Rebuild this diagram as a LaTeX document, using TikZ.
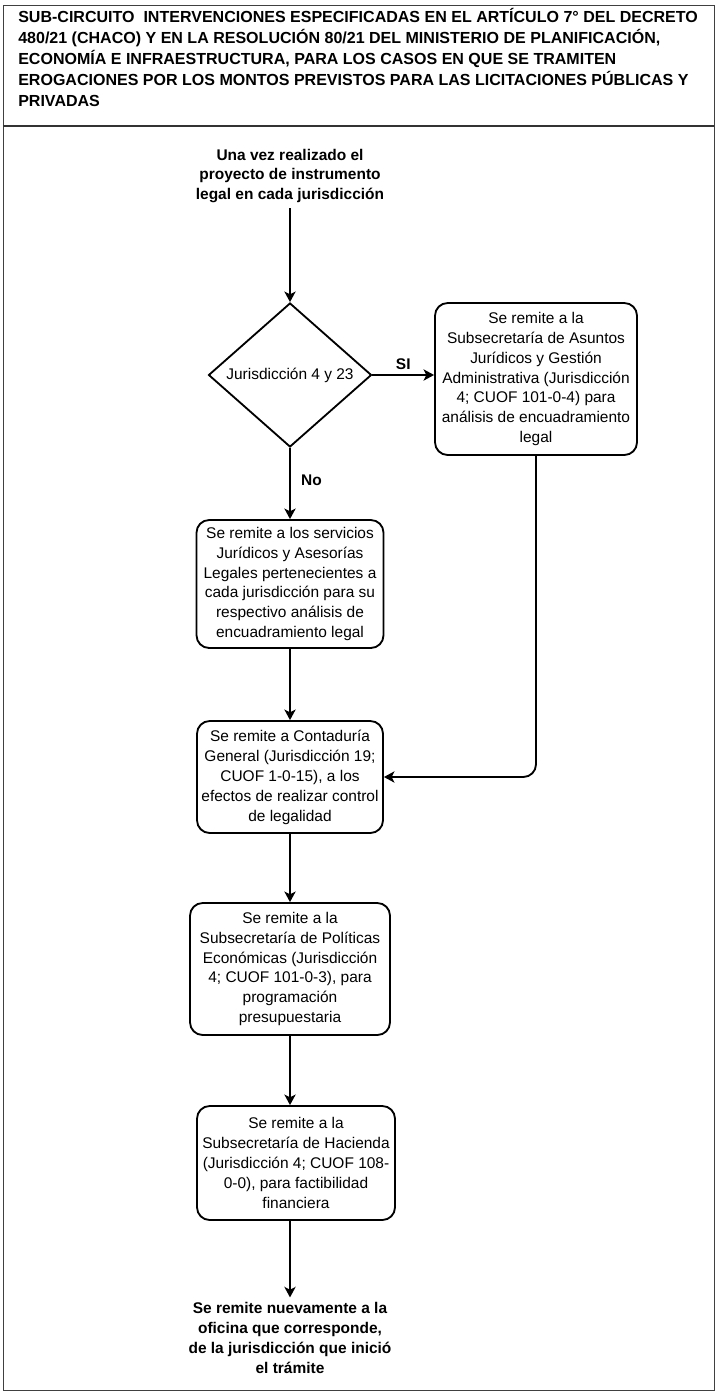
\documentclass[tikz,border=0pt]{standalone}
\usepackage{fontspec}
\setmainfont{Liberation Sans}
\usetikzlibrary{positioning, shapes, arrows.meta, calc}

\begin{document}
\begin{tikzpicture}[
    caja/.style={draw, line width=1.3pt, rounded corners=9pt, align=center, inner sep=1pt, font=\fontsize{11}{14.2}\selectfont},
    decision/.style={draw, line width=1.3pt, diamond, aspect=1.13, inner sep=0pt, minimum width=4.075cm, minimum height=3.6cm, font=\fontsize{11}{14.2}\selectfont},
    texto/.style={align=center, font=\bfseries\fontsize{11}{14.2}\selectfont},
    rotulo/.style={font=\bfseries\fontsize{11}{14}\selectfont},
    flecha/.style={-{Stealth[length=7.5pt,width=8pt,inset=2pt]}, line width=1.3pt}
]
\useasboundingbox (0,0) rectangle (17.9,-34.9);

% marco
\draw[line width=0.7pt, black!75] (0.075,-0.125) rectangle (17.85,-34.75);
\draw[line width=2pt, black!80] (0.075,-3.15) -- (17.85,-3.15);

% titulo
\node[anchor=north west, align=left, inner sep=0pt, font=\bfseries\fontsize{11.4}{14.9}\selectfont] (titulo) at (0.45,-0.2) {SUB-CIRCUITO\ \ INTERVENCIONES ESPECIFICADAS EN EL ARTÍCULO 7° DEL DECRETO\\480/21 (CHACO) Y EN LA RESOLUCIÓN 80/21 DEL MINISTERIO DE PLANIFICACIÓN,\\ECONOMÍA E INFRAESTRUCTURA, PARA LOS CASOS EN QUE SE TRAMITEN\\EROGACIONES POR LOS MONTOS PREVISTOS PARA LAS LICITACIONES PÚBLICAS Y\\PRIVADAS};

% nodos
\node[texto] (inicio) at (7.25,-4.4) {Una vez realizado el\\proyecto de instrumento\\legal en cada jurisdicción};
\node[decision] (jurisdiccion) at (7.25,-9.375) {Jurisdicción 4 y 23};
\node[caja, minimum width=5.05cm, minimum height=3.8cm] (asuntos) at (13.4,-9.475) {Se remite a la\\Subsecretaría de Asuntos\\Jurídicos y Gestión\\Administrativa (Jurisdicción\\4; CUOF 101-0-4) para\\análisis de encuadramiento\\legal};
\node[caja, minimum width=4.675cm, minimum height=3.2cm] (servicios) at (7.25,-14.6) {Se remite a los servicios\\Jurídicos y Asesorías\\Legales pertenecientes a\\cada jurisdicción para su\\respectivo análisis de\\encuadramiento legal};
\node[caja, minimum width=4.65cm, minimum height=2.8cm] (contaduria) at (7.25,-19.425) {Se remite a Contaduría\\General (Jurisdicción 19;\\CUOF 1-0-15), a los\\efectos de realizar control\\de legalidad};
\node[caja, minimum width=5cm, minimum height=3.3cm] (politicas) at (7.25,-24.225) {Se remite a la\\Subsecretaría de Políticas\\Económicas (Jurisdicción\\4; CUOF 101-0-3), para\\programación\\presupuestaria};
\node[caja, minimum width=4.95cm, minimum height=2.85cm] (hacienda) at (7.4,-29.075) {Se remite a la\\Subsecretaría de Hacienda\\(Jurisdicción 4; CUOF 108-\\0-0), para factibilidad\\financiera};
\node[texto] (fin) at (7.25,-33.45) {Se remite nuevamente a la\\oficina que corresponde,\\de la jurisdicción que inició\\el trámite};

% conectores
\draw[flecha] (inicio) -- (jurisdiccion);
\draw[flecha] (jurisdiccion.east) -- node[rotulo, above] {SI} (jurisdiccion.east -| asuntos.west);
\draw[flecha] (jurisdiccion) -- node[rotulo, pos=0.45, right=4pt] {No} (servicios);
\draw[flecha] (servicios) -- (contaduria);
\draw[flecha, rounded corners=9pt] (asuntos.south) |- (contaduria.east);
\draw[flecha] (contaduria) -- (politicas);
\draw[flecha] (politicas.south) -- (politicas.south |- hacienda.north);
\draw[flecha] (hacienda.south -| fin.north) -- (fin.north);
\end{tikzpicture}
\end{document}
